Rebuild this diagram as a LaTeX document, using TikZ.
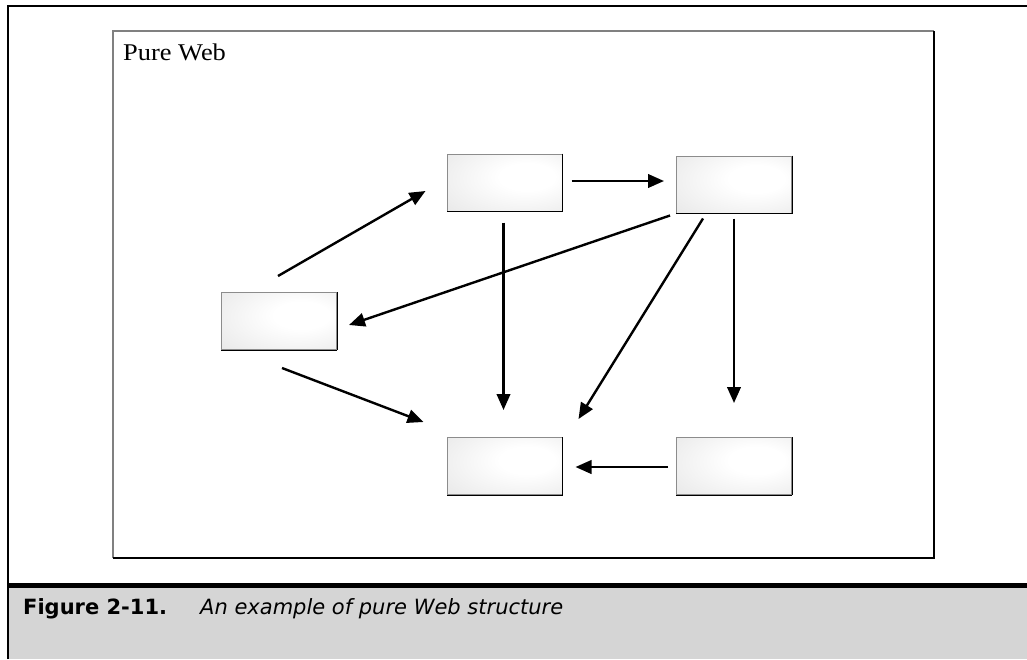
\documentclass[tikz,border=0pt]{standalone}
\usepackage{fontspec}
\setmainfont{Liberation Serif}
\newfontfamily\titlefont[FakeStretch=1.1]{Liberation Serif}
\newfontfamily\capfont{DejaVu Sans}
\usetikzlibrary{arrows.meta,calc}
\definecolor{capgray}{HTML}{D5D5D5}
\definecolor{framelite}{HTML}{808080}
% soft highlight slightly right of and above the middle of each page
\pgfdeclareradialshading{pageshade}{\pgfpoint{12bp}{6bp}}{%
  color(0bp)=(white); color(12bp)=(white); color(68bp)=(black!17)}

\begin{document}
\begin{tikzpicture}[x=1pt,y=-1pt,
  pagebox/.style={rectangle, minimum width=115pt, minimum height=57pt,
    inner sep=0pt, shading=pageshade,
    draw=black!45, line width=1pt,
    append after command={
      (\tikzlastnode.north east) edge[black, line width=1pt] (\tikzlastnode.south east)
      (\tikzlastnode.south east) edge[black, line width=1pt] (\tikzlastnode.south west)}},
  link/.style={line width=2.4pt, -{Triangle[length=16pt,width=13.5pt]}},
  title/.style={anchor=base west, inner sep=0pt, font=\titlefont\fontsize{24}{28}\selectfont},
  capbold/.style={anchor=base west, inner sep=0pt, font=\capfont\bfseries\fontsize{21}{25}\selectfont},
  capital/.style={anchor=base west, inner sep=0pt, font=\capfont\itshape\fontsize{21}{25}\selectfont}
]
\useasboundingbox (0,0) rectangle (1027,659);

% caption band and outer frame
\fill[capgray] (8,587) rectangle (1027,659);
\draw[line width=5pt] (7,585.5) -- (1027,585.5);
\draw[line width=2.5pt] (8,659) -- (8,6) -- (1027,6);

% inner frame, light on top/left and dark on bottom/right
\draw[framelite, line width=1.5pt] (934,31) -- (113,31) -- (113,558);
\draw[black, line width=1.5pt] (113,558) -- (934,558) -- (934,31);

\node[title] (ttl) at (123,60) {Pure Web};

% pages
\node[pagebox] (A) at (504.5,182.5) {};
\node[pagebox] (B) at (734,184.5) {};
\node[pagebox] (C) at (279,321) {};
\node[pagebox] (D) at (504.5,466) {};
\node[pagebox] (E) at (734,466) {};

% links
\draw[link] ($(A.east)+(9,-1.5)$) -- ($(B.west)+(-12,-3.5)$);
\draw[link] ($(E.west)+(-8,1)$) -- ($(D.east)+(13,1)$);
\draw[link] ($(A.south)+(-1,11)$) -- ($(D.north)+(-1,-27)$);
\draw[link] ($(B.south)+(0,5)$) -- ($(E.north)+(0,-34)$);
\draw[link] ($(C.north)+(-1,-16)$) -- ($(A.west)+(-21,8.5)$);
\draw[link] ($(B.south west)+(-6,2)$) -- ($(C.east)+(12,4)$);
\draw[link] ($(B.south)+(-31,5)$) -- ($(D.north east)+(16,-18)$);
\draw[link] ($(C.south)+(3,18)$) -- ($(D.west)+(-23,-44)$);

% caption
\node[capbold] (fig) at (23,614.5) {Figure 2-11.};
\node[capital] (cap) at (200,614.5) {An example of pure Web structure};
\end{tikzpicture}
\end{document}
